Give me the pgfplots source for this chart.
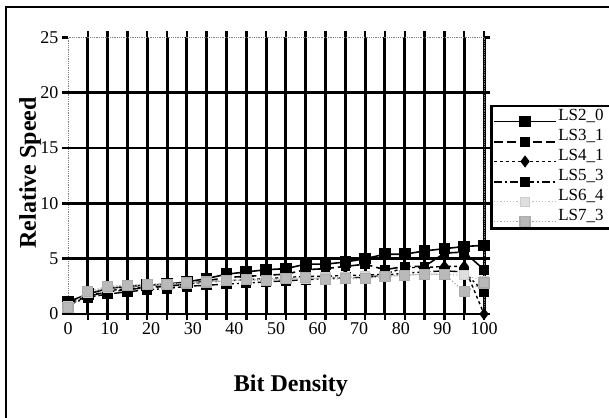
\documentclass[border=0pt]{standalone}
\usepackage{pgfplots}
\usepackage{pgfplotstable}
\usepackage{fontspec}
\setmainfont{Liberation Serif}
\pgfplotsset{compat=1.18}

% x positions are the 22 slots of the original (100/21 apart)
\pgfplotstableread{
x      a    b    c    d    e    f
0      1.1  1.0  0.9  0.8  0.7  0.6
4.762  1.8  1.6  1.6  1.5  1.9  2.0
9.524  2.3  2.0  2.1  1.8  2.4  2.5
14.286 2.5  2.2  2.3  2.0  2.5  2.6
19.048 2.6  2.4  2.4  2.2  2.6  2.7
23.810 2.7  2.5  2.5  2.3  2.7  2.7
28.571 2.9  2.7  2.7  2.5  2.8  2.8
33.333 3.2  3.0  2.9  2.6  2.9  2.9
38.095 3.6  3.3  3.0  2.7  3.0  3.0
42.857 3.8  3.4  3.1  2.8  3.1  3.1
47.619 4.0  3.5  3.2  2.9  3.1  3.0
52.381 4.1  3.6  3.3  3.0  3.2  3.2
57.143 4.5  4.0  3.4  3.1  3.2  3.3
61.905 4.5  4.1  3.4  3.2  3.3  3.1
66.667 4.7  4.3  3.5  3.3  3.3  3.2
71.429 5.0  4.5  3.5  3.3  3.4  3.2
76.190 5.4  4.0  3.6  3.5  3.4  3.4
80.952 5.4  4.3  4.2  3.7  3.5  3.5
85.714 5.7  4.3  4.2  3.8  3.6  3.6
90.476 5.9  5.5  4.3  3.9  3.6  3.6
95.238 6.1  5.6  4.3  3.8  3.5  2.0
100    6.2  4.0  0.0  2.0  3.0  2.8
}\speeddata

\begin{document}
\begin{tikzpicture}
\useasboundingbox (0,0) rectangle (609pt,417pt);
\draw[line width=2.5pt] (6pt,-20pt) -- (6pt,410pt) -- (650pt,410pt);
\begin{axis}[
at={(68pt,103pt)},anchor=south west,
scale only axis,width=416pt,height=276.7pt,
xmin=0,xmax=100,ymin=0,ymax=25,
clip=false,
/pgf/number format/assume math mode=true,
ticklabel style={font=\fontsize{18}{20}\selectfont},
axis line style={draw=gray,densely dotted,line width=0.8pt},
tick align=outside,
tick style={black,line width=2.5pt},
xtick={4.762,9.524,14.286,19.048,23.810,28.571,33.333,38.095,42.857,47.619,52.381,57.143,61.905,66.667,71.429,76.190,80.952,85.714,90.476,95.238,100},
xticklabels={},
xmajorgrids,
major tick length=6pt,
x grid style={black,line width=3pt},
extra x ticks={0,10,20,30,40,50,60,70,80,90,100},
extra x tick labels={0,10,20,30,40,50,60,70,80,90,100},
extra x tick style={xmajorgrids=false,major tick length=0pt,
  xticklabel style={yshift=-5pt}},
ytick={0,5,10,15,20,25},
extra y ticks={0,5,10,15,20},
extra y tick labels={},
extra y tick style={ymajorgrids=true},
y grid style={black,line width=2.5pt},
xlabel={Bit Density},
ylabel={Relative Speed},
label style={font=\fontsize{24}{26}\selectfont\bfseries},
xlabel style={at={(axis description cs:0.536,-0.26)},anchor=center},
ylabel style={at={(axis description cs:-0.091,0.51)},anchor=center},
legend style={at={(axis description cs:1.0144,0.757)},anchor=north west,
  draw=black,line width=2.5pt,inner sep=2pt,row sep=1.5pt,
  font=\fontsize{17}{18}\selectfont,
  nodes={text width=110pt,align=left,inner sep=1.5pt}},
legend cell align=left,
legend image code/.code={\draw[mark repeat=2,mark phase=2,#1] plot coordinates {(0pt,-6pt) (31pt,-6pt) (62pt,-6pt)};},
]
\addplot[black,line width=1.6pt,mark=square*,mark size=5pt,mark options={solid}] table[x=x,y=a] {\speeddata};
\addplot[black,line width=1.6pt,dash pattern=on 9pt off 4pt,mark=square*,mark size=4pt,mark options={solid}] table[x=x,y=b] {\speeddata};
\addplot[black,line width=1.4pt,dash pattern=on 3pt off 3pt,mark=diamond*,mark size=5pt,mark options={solid}] table[x=x,y=c] {\speeddata};
\addplot[black,line width=1.4pt,dash pattern=on 8pt off 3pt on 2pt off 3pt,mark=square*,mark size=4.5pt,mark options={solid}] table[x=x,y=d] {\speeddata};
\addplot[gray!50,line width=1.2pt,dotted,mark=square*,mark size=4.5pt,mark options={solid,fill=gray!25,draw=gray!40}] table[x=x,y=e] {\speeddata};
\addplot[gray!70,line width=1.2pt,dotted,mark=square*,mark size=5pt,mark options={solid,fill=gray!55,draw=gray!65}] table[x=x,y=f] {\speeddata};
\legend{LS2\_0,LS3\_1,LS4\_1,LS5\_3,LS6\_4,LS7\_3}
\end{axis}
\end{tikzpicture}
\end{document}
